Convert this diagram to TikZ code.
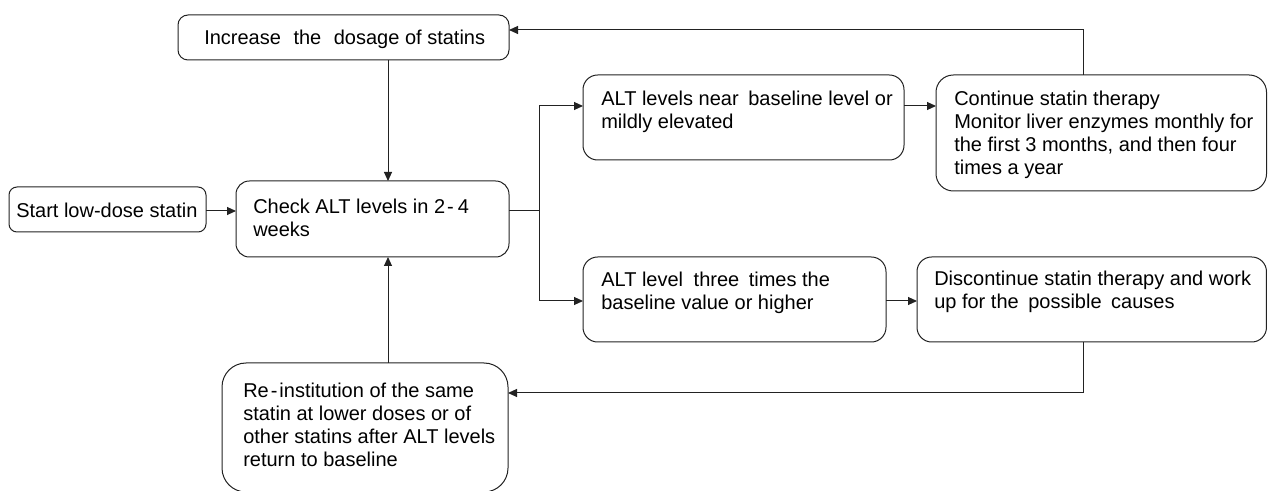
\documentclass[tikz,border=0pt]{standalone}
\usepackage{fontspec}
\setmainfont{Liberation Sans}
\usetikzlibrary{arrows.meta}
\definecolor{ln}{HTML}{222222}
\tikzset{
  box/.style={draw=ln, line width=0.75pt, inner sep=0pt, outer sep=0pt, anchor=north west},
  txt/.style={inner sep=0pt, anchor=north west, align=left, text=black,
    font=\fontsize{15pt}{17.25pt}\selectfont},
  arr/.style={draw=ln, line width=0.75pt, -{Triangle[length=6.75pt,width=6pt]}},
  con/.style={draw=ln, line width=0.75pt},
}
\begin{document}
\begin{tikzpicture}[x=0.75pt,y=-0.75pt]
\useasboundingbox (0,0) rectangle (1268,491);
% boxes
\node[box, rounded corners=7.5pt, minimum width=248.25pt, minimum height=33.75pt] (inc) at (178,15) {};
\node[box, rounded corners=6pt, minimum width=147.75pt, minimum height=33.75pt] (start) at (9,187) {};
\node[box, rounded corners=10pt, minimum width=204.75pt, minimum height=57pt] (check) at (236,181) {};
\node[box, rounded corners=11pt, minimum width=240.75pt, minimum height=63.75pt] (near) at (583,75) {};
\node[box, rounded corners=11pt, minimum width=227.25pt, minimum height=63.75pt] (three) at (583,257) {};
\node[box, rounded corners=13pt, minimum width=247.9pt, minimum height=87pt] (cont) at (936,75) {};
\node[box, rounded corners=11pt, minimum width=262.1pt, minimum height=63.75pt] (disc) at (917,257) {};
\node[box, rounded corners=18pt, minimum width=214.5pt, minimum height=96.75pt] (reinst) at (222,363) {};
% texts
\node[txt] (tinc) at (204,30) {Increase\hspace{0.35em} the\hspace{0.35em} dosage of statins};
\node[txt] (tstart) at (16,203) {Start low-dose statin};
\node[txt] (tcheck) at (253,199) {Check ALT levels in 2\kern0.1em-\kern0.2em4\\weeks};
\node[txt] (tnear) at (601,91) {ALT levels near\hspace{0.2em} baseline level or\\mildly elevated};
\node[txt] (tthree) at (601,272) {ALT level\hspace{0.25em} three\hspace{0.2em} times the\\baseline value or higher};
\node[txt] (tcont) at (954,91) {Continue statin therapy\\Monitor liver enzymes monthly for\\the first 3 months, and then four\\times a year};
\node[txt] (tdisc) at (934,271) {Discontinue statin therapy and work\\up for the\hspace{0.2em} possible\hspace{0.2em} causes};
\node[txt] (treinst) at (243,383) {Re\kern0.1em-\kern0.1em institution of the same\\statin at lower doses or of\\other statins after ALT levels\\return to baseline};
% helper coordinates
\coordinate (xa) at (388,0);
\coordinate (xb) at (1083,0);
\coordinate (ya) at (0,211);
\coordinate (yb) at (0,106);
\coordinate (yc) at (0,301);
\coordinate (yd) at (0,30);
\coordinate (ye) at (0,393);
\coordinate (split) at (539,211);
\coordinate (topturn) at (1083,30);
\coordinate (botturn) at (1083,393);
% connectors
\draw[arr] (start.east |- ya) -- (check.west |- ya);
\draw[arr] (inc.south -| xa) -- (check.north -| xa);
\draw[arr] (reinst.north -| xa) -- (check.south -| xa);
\draw[con] (check.east |- ya) -- (split);
\draw[arr] (split) |- (near.west |- yb);
\draw[arr] (split) |- (three.west |- yc);
\draw[arr] (near.east |- yb) -- (cont.west |- yb);
\draw[arr] (three.east |- yc) -- (disc.west |- yc);
\draw[arr] (cont.north -| xb) -- (topturn) -- (inc.east |- yd);
\draw[arr] (disc.south -| xb) -- (botturn) -- (reinst.east |- ye);
\end{tikzpicture}
\end{document}
